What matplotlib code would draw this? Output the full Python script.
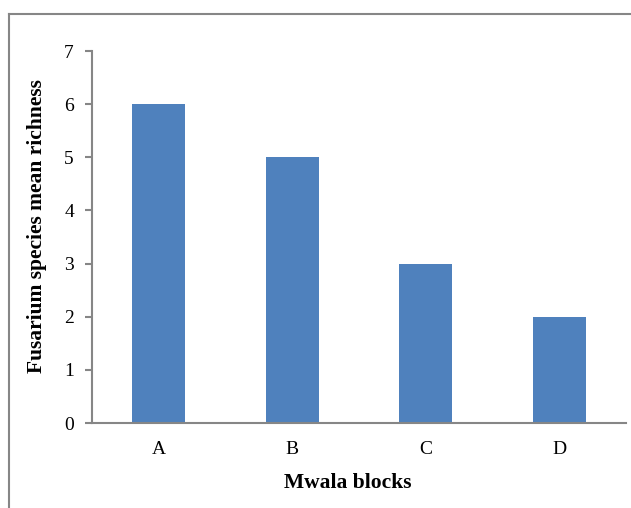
import matplotlib
matplotlib.use("Agg")
import matplotlib.pyplot as plt
from matplotlib.lines import Line2D

# Fusarium species richness per block
blocks = ["A", "B", "C", "D"]
mean_richness = [6, 5, 3, 2]
y_ticks = [0, 1, 2, 3, 4, 5, 6, 7]

plt.rcParams['font.family'] = ['Liberation Serif', 'DejaVu Serif']

fig = plt.figure(figsize=(6.31, 5.08), dpi=100)
ax = fig.add_axes([92 / 631, 1 - 423 / 508, (626 - 92) / 631, (423 - 51) / 508])

x = range(len(blocks))
ax.bar(x, mean_richness, width=0.4, color="#4F81BD", zorder=2)

ax.set_xlim(-0.5, len(blocks) - 0.5)
ax.set_ylim(0, 7)
ax.set_yticks(y_ticks)
ax.set_xticks(list(x))
ax.set_xticklabels(blocks)

for side in ["top", "right"]:
    ax.spines[side].set_visible(False)
for side in ["left", "bottom"]:
    ax.spines[side].set_color("#868686")
    ax.spines[side].set_linewidth(1.5)

ax.tick_params(axis="y", length=5, width=1.5, color="#868686", labelsize=14, pad=8)
ax.tick_params(axis="x", length=0, labelsize=14, pad=13)

ax.set_xlabel("Mwala blocks", fontsize=15.5, fontweight="bold", labelpad=11)
ax.set_ylabel("Fusarium species mean richness", fontsize=15.5, fontweight="bold", labelpad=12)
ax.xaxis.label.set_x(0.479)
ax.yaxis.label.set_y(0.53)

# chart area frame (top and left edges only)
fig.add_artist(Line2D([8.5 / 631, 1.0], [1 - 14 / 508, 1 - 14 / 508],
                      color="#868686", linewidth=1.5, transform=fig.transFigure))
fig.add_artist(Line2D([8.5 / 631, 8.5 / 631], [0.0, 1 - 14 / 508],
                      color="#868686", linewidth=1.5, transform=fig.transFigure))

fig.savefig("out.png", dpi=100)
